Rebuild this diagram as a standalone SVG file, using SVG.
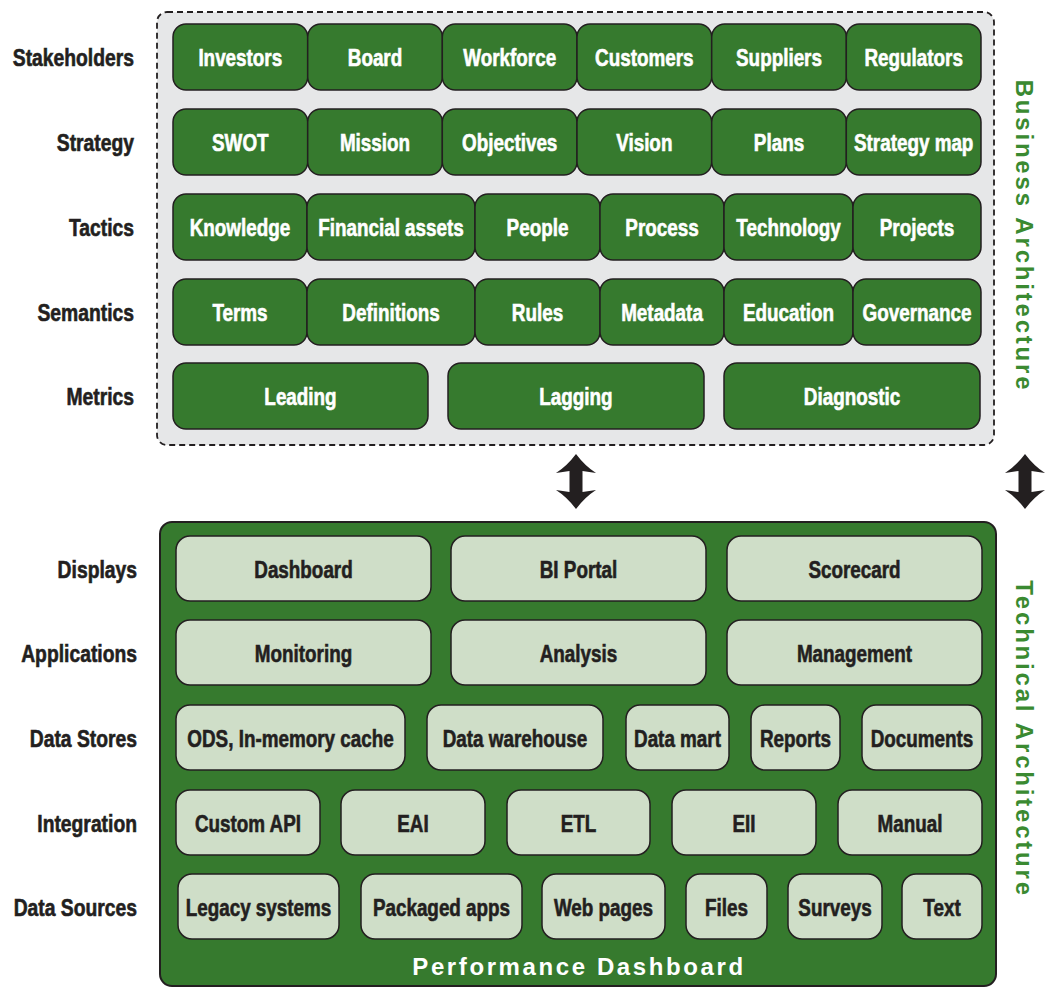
<svg xmlns="http://www.w3.org/2000/svg" width="1051" height="989" viewBox="0 0 1051 989">
<style>
.bg{fill:#ffffff}
.biz{fill:#E6E7E8;stroke:#231F20;stroke-width:1.8;stroke-dasharray:6 4}
.tech{fill:#367A2E;stroke:#231F20;stroke-width:2}
.g rect{fill:#367A2E;stroke:#231F20;stroke-width:1.5}
.l rect{fill:#CFDEC8;stroke:#231F20;stroke-width:1.5}
.g text{fill:#ffffff;stroke:#ffffff;stroke-width:0.6}
.l text{fill:#231F20;stroke:#231F20;stroke-width:0.6}
.n text{font-family:"Liberation Sans",Arial,sans-serif;font-weight:bold;font-size:23px;text-anchor:middle;transform-box:fill-box;transform-origin:50% 50%;transform:scaleX(0.82)}
.lab{font-family:"Liberation Sans",Arial,sans-serif;font-weight:bold;font-size:23px;text-anchor:end;fill:#231F20;stroke:#231F20;stroke-width:0.6;transform-box:fill-box;transform-origin:100% 50%;transform:scaleX(0.84)}
.vt{font-family:"Liberation Sans",Arial,sans-serif;font-weight:bold;font-size:24px;letter-spacing:2.8px;fill:#3A8A31;text-anchor:middle}
.pd{font-family:"Liberation Sans",Arial,sans-serif;font-weight:bold;font-size:24px;letter-spacing:2.6px;fill:#ffffff;text-anchor:middle}
.arr{fill:#231F20}
</style>
<defs>
<path id="dbl" d="M0 0 Q9 12 20 19 L6.5 17 L6.5 38 L20 36 Q9 43 0 55 Q-9 43 -20 36 L-6.5 38 L-6.5 17 L-20 19 Q-9 12 0 0 Z"/>
</defs>
<rect class="bg" x="0" y="0" width="1051" height="989"/>

<g id="business-architecture">
<rect class="biz" x="157" y="12" width="837" height="433" rx="10"/>
<text class="vt" transform="translate(1016,236) rotate(90)">Business Architecture</text>
</g>

<g id="row-labels">
<text class="lab" x="134" y="66.5">Stakeholders</text>
<text class="lab" x="134" y="151.5">Strategy</text>
<text class="lab" x="134" y="236.5">Tactics</text>
<text class="lab" x="134" y="321.5">Semantics</text>
<text class="lab" x="134" y="405.5">Metrics</text>
<text class="lab" x="137" y="578.5">Displays</text>
<text class="lab" x="137" y="662.5">Applications</text>
<text class="lab" x="137" y="747.5">Data Stores</text>
<text class="lab" x="137" y="832.5">Integration</text>
<text class="lab" x="137" y="916.5">Data Sources</text>
</g>

<g class="n g">
<g id="investors"><rect x="173" y="24" width="134.7" height="66" rx="13"/><text x="240.3" y="66.5">Investors</text></g>
<g id="board"><rect x="307.7" y="24" width="134.7" height="66" rx="13"/><text x="375" y="66.5">Board</text></g>
<g id="workforce"><rect x="442.3" y="24" width="134.7" height="66" rx="13"/><text x="509.7" y="66.5">Workforce</text></g>
<g id="customers"><rect x="577" y="24" width="134.7" height="66" rx="13"/><text x="644.3" y="66.5">Customers</text></g>
<g id="suppliers"><rect x="711.7" y="24" width="134.7" height="66" rx="13"/><text x="779" y="66.5">Suppliers</text></g>
<g id="regulators"><rect x="846.3" y="24" width="134.7" height="66" rx="13"/><text x="913.7" y="66.5">Regulators</text></g>

<g id="swot"><rect x="173" y="109" width="134.7" height="66" rx="13"/><text x="240.3" y="151.5">SWOT</text></g>
<g id="mission"><rect x="307.7" y="109" width="134.7" height="66" rx="13"/><text x="375" y="151.5">Mission</text></g>
<g id="objectives"><rect x="442.3" y="109" width="134.7" height="66" rx="13"/><text x="509.7" y="151.5">Objectives</text></g>
<g id="vision"><rect x="577" y="109" width="134.7" height="66" rx="13"/><text x="644.3" y="151.5">Vision</text></g>
<g id="plans"><rect x="711.7" y="109" width="134.7" height="66" rx="13"/><text x="779" y="151.5">Plans</text></g>
<g id="strategy-map"><rect x="846.3" y="109" width="134.7" height="66" rx="13"/><text x="913.7" y="151.5">Strategy map</text></g>

<g id="knowledge"><rect x="173" y="194" width="134" height="66" rx="13"/><text x="240" y="236.5">Knowledge</text></g>
<g id="financial-assets"><rect x="307" y="194" width="168" height="66" rx="13"/><text x="391" y="236.5">Financial assets</text></g>
<g id="people"><rect x="475" y="194" width="125" height="66" rx="13"/><text x="537.5" y="236.5">People</text></g>
<g id="process"><rect x="600" y="194" width="124" height="66" rx="13"/><text x="662" y="236.5">Process</text></g>
<g id="technology"><rect x="724" y="194" width="129" height="66" rx="13"/><text x="788.5" y="236.5">Technology</text></g>
<g id="projects"><rect x="853" y="194" width="128" height="66" rx="13"/><text x="917" y="236.5">Projects</text></g>

<g id="terms"><rect x="173" y="279" width="134" height="66" rx="13"/><text x="240" y="321.5">Terms</text></g>
<g id="definitions"><rect x="307" y="279" width="168" height="66" rx="13"/><text x="391" y="321.5">Definitions</text></g>
<g id="rules"><rect x="475" y="279" width="125" height="66" rx="13"/><text x="537.5" y="321.5">Rules</text></g>
<g id="metadata"><rect x="600" y="279" width="124" height="66" rx="13"/><text x="662" y="321.5">Metadata</text></g>
<g id="education"><rect x="724" y="279" width="129" height="66" rx="13"/><text x="788.5" y="321.5">Education</text></g>
<g id="governance"><rect x="853" y="279" width="128" height="66" rx="13"/><text x="917" y="321.5">Governance</text></g>

<g id="leading"><rect x="173" y="363" width="255" height="66" rx="13"/><text x="300.5" y="405.5">Leading</text></g>
<g id="lagging"><rect x="448" y="363" width="256" height="66" rx="13"/><text x="576" y="405.5">Lagging</text></g>
<g id="diagnostic"><rect x="724" y="363" width="256" height="66" rx="13"/><text x="852" y="405.5">Diagnostic</text></g>
</g>

<g id="connectors">
<use class="arr" href="#dbl" x="576" y="454"/>
<use class="arr" href="#dbl" x="1025" y="454"/>
</g>

<g id="technical-architecture">
<rect class="tech" x="160" y="522" width="836" height="464" rx="12"/>
<text class="pd" x="579" y="975">Performance Dashboard</text>
<text class="vt" transform="translate(1016,739) rotate(90)">Technical Architecture</text>
</g>

<g class="n l">
<g id="dashboard"><rect x="176" y="536" width="255" height="65" rx="14"/><text x="303.5" y="578.5">Dashboard</text></g>
<g id="bi-portal"><rect x="451" y="536" width="255" height="65" rx="14"/><text x="578.5" y="578.5">BI Portal</text></g>
<g id="scorecard"><rect x="727" y="536" width="255" height="65" rx="14"/><text x="854.5" y="578.5">Scorecard</text></g>

<g id="monitoring"><rect x="176" y="620" width="255" height="65" rx="14"/><text x="303.5" y="662.5">Monitoring</text></g>
<g id="analysis"><rect x="451" y="620" width="255" height="65" rx="14"/><text x="578.5" y="662.5">Analysis</text></g>
<g id="management"><rect x="727" y="620" width="255" height="65" rx="14"/><text x="854.5" y="662.5">Management</text></g>

<g id="ods"><rect x="176" y="705" width="229" height="65" rx="14"/><text x="290.5" y="747.5">ODS, In-memory cache</text></g>
<g id="data-warehouse"><rect x="427" y="705" width="176" height="65" rx="14"/><text x="515" y="747.5">Data warehouse</text></g>
<g id="data-mart"><rect x="626" y="705" width="103" height="65" rx="14"/><text x="677.5" y="747.5">Data mart</text></g>
<g id="reports"><rect x="751" y="705" width="89" height="65" rx="14"/><text x="795.5" y="747.5">Reports</text></g>
<g id="documents"><rect x="862" y="705" width="120" height="65" rx="14"/><text x="922" y="747.5">Documents</text></g>

<g id="custom-api"><rect x="176" y="790" width="144" height="65" rx="14"/><text x="248" y="832.5">Custom API</text></g>
<g id="eai"><rect x="341" y="790" width="144" height="65" rx="14"/><text x="413" y="832.5">EAI</text></g>
<g id="etl"><rect x="507" y="790" width="143" height="65" rx="14"/><text x="578.5" y="832.5">ETL</text></g>
<g id="eii"><rect x="672" y="790" width="144" height="65" rx="14"/><text x="744" y="832.5">EII</text></g>
<g id="manual"><rect x="838" y="790" width="144" height="65" rx="14"/><text x="910" y="832.5">Manual</text></g>

<g id="legacy-systems"><rect x="178" y="874" width="161" height="65" rx="14"/><text x="258.5" y="916.5">Legacy systems</text></g>
<g id="packaged-apps"><rect x="361" y="874" width="161" height="65" rx="14"/><text x="441.5" y="916.5">Packaged apps</text></g>
<g id="web-pages"><rect x="542" y="874" width="123" height="65" rx="14"/><text x="603.5" y="916.5">Web pages</text></g>
<g id="files"><rect x="686" y="874" width="81" height="65" rx="14"/><text x="726.5" y="916.5">Files</text></g>
<g id="surveys"><rect x="788" y="874" width="94" height="65" rx="14"/><text x="835" y="916.5">Surveys</text></g>
<g id="text"><rect x="902" y="874" width="80" height="65" rx="14"/><text x="942" y="916.5">Text</text></g>
</g>
</svg>
